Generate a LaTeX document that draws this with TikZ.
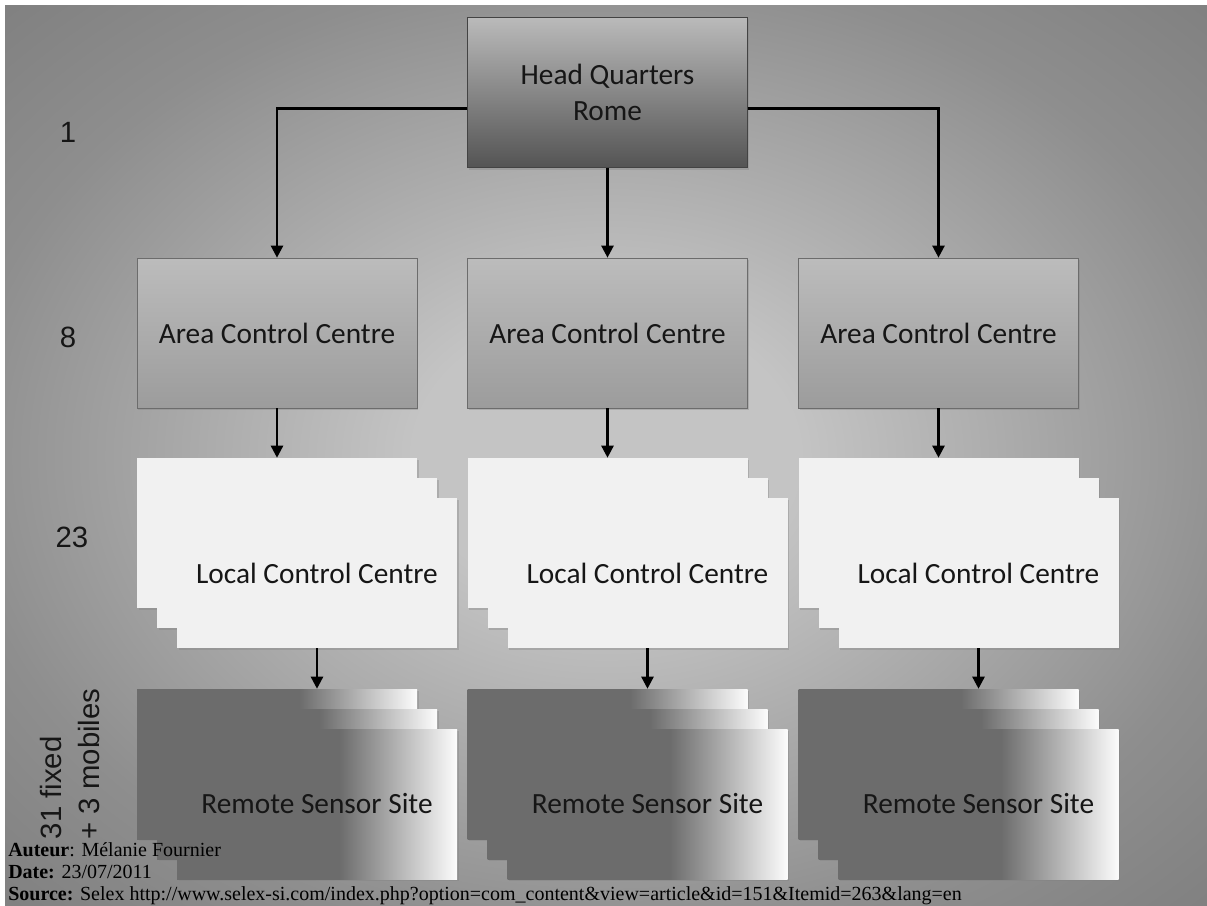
\documentclass[tikz,border=0pt]{standalone}
\usepackage{fontspec}
\usepackage{tikz}
\usetikzlibrary{arrows.meta,shadows}
\newfontfamily\boxfont{Carlito}
\newfontfamily\lblfont{Liberation Sans}
\newfontfamily\notefont{Liberation Serif}
\definecolor{cBgIn}{RGB}{196,196,196}
\definecolor{cBgOut}{RGB}{142,142,142}
\definecolor{cBgEdge}{RGB}{126,126,126}
\definecolor{cHqTop}{RGB}{186,186,186}
\definecolor{cHqBot}{RGB}{84,84,84}
\definecolor{cAccTop}{RGB}{188,188,188}
\definecolor{cAccBot}{RGB}{156,156,156}
\definecolor{cLcc}{RGB}{241,241,241}
\definecolor{cRssDark}{RGB}{108,108,108}
\definecolor{cRssLight}{RGB}{252,252,252}
\definecolor{cInk}{RGB}{22,22,22}
\pgfdeclareradialshading{bgshade}{\pgfpoint{0bp}{0bp}}{color(0bp)=(cBgIn); color(8bp)=(cBgIn); color(27bp)=(cBgOut); color(37bp)=(cBgEdge); color(50bp)=(cBgEdge)}
\pgfdeclarehorizontalshading{rssshade}{100bp}{color(0bp)=(cRssDark); color(54bp)=(cRssDark); color(75bp)=(cRssLight); color(100bp)=(cRssLight)}

\tikzset{
  stackbox/.style={minimum width=210pt,minimum height=112.5pt,inner sep=0pt,
    text=cInk,font=\boxfont\fontsize{22}{27}\selectfont,align=center},
  hqbox/.style={stackbox,draw=cHqBot!80!black,line width=0.6pt,top color=cHqTop,bottom color=cHqBot,
    drop shadow={shadow xshift=1pt,shadow yshift=-1.5pt,opacity=0.35}},
  accbox/.style={stackbox,draw=gray!85!black,line width=0.5pt,top color=cAccTop,bottom color=cAccBot,
    drop shadow={shadow xshift=1pt,shadow yshift=-1.5pt,opacity=0.35}},
  lccbox/.style={stackbox,fill=cLcc,
    drop shadow={shadow xshift=1.2pt,shadow yshift=-1.2pt,opacity=0.35}},
  rssbox/.style={stackbox,shade,shading=rssshade,
    drop shadow={shadow xshift=1.2pt,shadow yshift=-1.2pt,opacity=0.35}},
  link/.style={draw=black,line width=1.8pt,-{Triangle[length=9pt,width=9pt]}},
  lvl/.style={text=cInk,font=\lblfont\fontsize{22}{28}\selectfont},
  note/.style={anchor=base west,inner sep=0pt,text=black,font=\notefont\fontsize{15}{17}\selectfont}
}

\begin{document}
\begin{tikzpicture}[x=0.75pt,y=-0.75pt]
\useasboundingbox (0,0) rectangle (1207,906);
\fill[white] (0,0) rectangle (1207,906);
\shade[shading=bgshade] (5,6) rectangle (1207,906);

% levels
\node[lvl] (n1) at (68,132) {1};
\node[lvl] (n8) at (68,337) {8};
\node[lvl] (n23) at (72,537) {23};
\node[lvl,rotate=90,anchor=west,align=left] (nrss) at (70,844) {31 fixed\\+ 3 mobiles};

% head quarters
\node[hqbox] (hq) at (607.5,92.5) {Head Quarters\\Rome};

% columns
\foreach \i/\cx in {1/277,2/607.5,3/938.5}{
  \node[accbox] (acc\i) at (\cx,333) {Area Control Centre};
  \node[lccbox] (lccA\i) at (\cx,533) {};
  \node[lccbox] (lccB\i) at (\cx+20,553) {};
  \node[lccbox] (lccC\i) at (\cx+40,573) {Local Control Centre};
  \node[rssbox] (rssA\i) at (\cx,764) {};
  \node[rssbox] (rssB\i) at (\cx+20,784) {};
  \node[rssbox] (rssC\i) at (\cx+40,804) {Remote Sensor Site};
  \draw[link] (acc\i) -- (lccA\i);
  \draw[link] (lccC\i.south) -- (lccC\i.south |- rssA\i.north);
}

\draw[link] ([yshift=-12pt]hq.west) -| (acc1.north);
\draw[link] (hq) -- (acc2);
\draw[link] ([yshift=-12pt]hq.east) -| (acc3.north);

% footer
\node[note] (auteur) at (8,856) {\textbf{Auteur}: Mélanie Fournier};
\node[note] (date) at (8,878) {\textbf{Date:} 23/07/2011};
\node[note] (source) at (8,900) {\textbf{Source:} Selex http://www.selex-si.com/index.php?option=com\_content\&view=article\&id=151\&Itemid=263\&lang=en};
\end{tikzpicture}
\end{document}
